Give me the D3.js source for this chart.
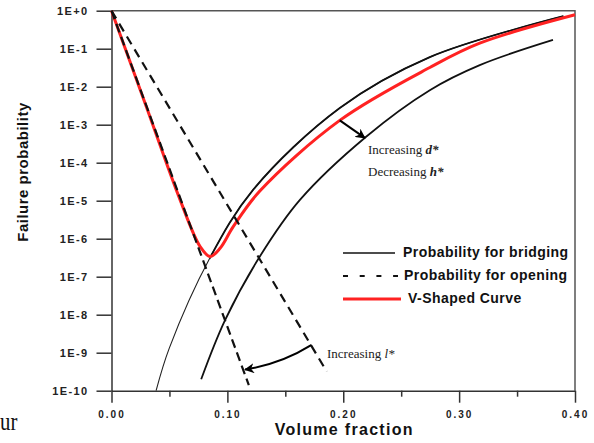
<!DOCTYPE html>
<html lang='en'>
<head>
  <title>Failure probability</title>
  <script src='https://cdn.jsdelivr.net/npm/d3@7/dist/d3.min.js'></script>
  <style>
    body { margin: 0; background: #fff; }
  </style>
</head>
<body>
  <script>
    // data: [volume fraction, probability]
    const bridgingUpper = [[0.0385, 1e-10], [0.0498, 1.3e-9], [0.0851, 3.2e-7], [0.122, 1.9e-5],
      [0.197, 2.75e-3], [0.2747, 6.0e-2], [0.39, 0.72]];
    const bridgingLower = [[0.0774, 2.0e-10], [0.098, 7.2e-9], [0.128, 3.4e-7], [0.1626, 1.05e-5],
      [0.22, 4.9e-4], [0.2747, 8.1e-3], [0.3178, 3.7e-2], [0.381, 0.17]];
    const openingSteep = [[0, 1], [0.1185, 1.4e-10]];
    const openingShallow = [[0, 1], [0.1857, 3.2e-10]];
    const vCurve = [[0, 1], [0.03, 3.0e-3], [0.0592, 1.05e-5], [0.0765, 6.2e-7], [0.0851, 3.4e-7],
      [0.0937, 5.6e-7], [0.1052, 2.1e-6], [0.128, 1.8e-5], [0.197, 1.3e-3], [0.2747, 3.2e-2],
      [0.3178, 0.14], [0.40, 0.78]];

    const yTicks = [1, 1e-1, 1e-2, 1e-3, 1e-4, 1e-5, 1e-6, 1e-7, 1e-8, 1e-9, 1e-10];
    const yTickLabels = ["1E+0", "1E-1", "1E-2", "1E-3", "1E-4", "1E-5", "1E-6", "1E-7", "1E-8", "1E-9", "1E-10"];
    const xTicks = [0, 0.1, 0.2, 0.3, 0.4];
    const xTickLabels = ["0.00", "0.10", "0.20", "0.30", "0.40"];
    const xMinorTicks = [0.05, 0.15, 0.25, 0.35];

    const legendItems = [
      { label: "Probability for bridging", color: "#111", width: 1.6, dash: null, len: 52, tx: 60 },
      { label: "Probability for opening", color: "#111", width: 2.2, dash: "5,11.7", len: 55, tx: 61 },
      { label: "V-Shaped Curve", color: "#f22", width: 3, dash: null, len: 58, tx: 65 }
    ];

    let W = 594, H = 443;
    let margins = { left: 111.5, top: 10.7, right: 19, bottom: 52.3 };

    let svg = d3.select("body").append("svg")
      .attr("width", W).attr("height", H)
      .style("font-family", "'Liberation Sans', Arial, sans-serif");

    let x = d3.scaleLinear().domain([0, 0.4]).range([margins.left, W - margins.right]);
    let y = d3.scaleLog().domain([1e-10, 1]).range([H - margins.bottom, margins.top]);

    let defs = svg.append("defs");
    // arrow head
    defs.append("marker")
      .attr("id", "head")
      .attr("viewBox", "0 0 10 10")
      .attr("refX", 9).attr("refY", 5)
      .attr("markerWidth", 10).attr("markerHeight", 10)
      .attr("markerUnits", "userSpaceOnUse")
      .attr("orient", "auto")
      .append("path").attr("d", "M0,0 L10,5 L0,10 L3,5 Z").attr("fill", "#000");
    // the bridging curve is drawn thicker right of the V minimum
    defs.append("clipPath").attr("id", "rightOfMin")
      .append("rect")
      .attr("x", x(0.085)).attr("y", 0)
      .attr("width", W).attr("height", H);

    // frame top and right
    svg.append("path")
      .attr("d", `M${x(0)},${y(1)} H${x(0.4)} V${y(1e-10)}`)
      .attr("fill", "none").attr("stroke", "#555").attr("stroke-width", 1.5);

    // y axis
    let yAxis = svg.append("g")
      .attr("transform", `translate(${x(0)},0)`)
      .call(d3.axisLeft(y).tickValues(yTicks).tickFormat((d, i) => yTickLabels[i])
        .tickSize(15).tickSizeOuter(0).tickPadding(8));
    // x axis
    let xAxis = svg.append("g")
      .attr("transform", `translate(0,${y(1e-10)})`)
      .call(d3.axisBottom(x).tickValues(xTicks).tickFormat((d, i) => xTickLabels[i])
        .tickSize(12).tickSizeOuter(0).tickPadding(8));
    svg.append("g")
      .attr("transform", `translate(0,${y(1e-10)})`)
      .call(d3.axisBottom(x).tickValues(xMinorTicks).tickFormat("").tickSize(6).tickSizeOuter(0))
      .select(".domain").remove();

    svg.selectAll(".tick line").attr("stroke", "#333").attr("stroke-width", 1.5);
    svg.selectAll(".domain").attr("stroke", "#333").attr("stroke-width", 1.5);
    svg.selectAll(".tick text")
      .attr("fill", "#222").style("font-weight", "bold")
      .style("font-family", "'Liberation Sans', Arial, sans-serif");
    yAxis.selectAll(".tick text").style("font-size", "11px").style("letter-spacing", "1.4px");
    xAxis.selectAll(".tick text").style("font-size", "10px").style("letter-spacing", "2px");

    // axis titles
    svg.append("text").text("Volume fraction")
      .attr("x", x(0.2) + 1).attr("y", 435)
      .attr("text-anchor", "middle")
      .style("font-weight", "bold").style("font-size", "16px").style("letter-spacing", "1.3px")
      .attr("fill", "#111");
    svg.append("text").text("Failure probability")
      .attr("transform", "translate(28,172) rotate(-90)")
      .attr("text-anchor", "middle")
      .style("font-weight", "bold").style("font-size", "15px").style("letter-spacing", "0.5px")
      .attr("fill", "#111");

    // lines
    let line = d3.line().x(d => x(d[0])).y(d => y(d[1])).curve(d3.curveCatmullRom.alpha(0.5));
    let straight = d3.line().x(d => x(d[0])).y(d => y(d[1]));

    let plot = svg.append("g");
    plot.append("path").datum(bridgingUpper)
      .attr("d", line).attr("fill", "none").attr("stroke", "#222").attr("stroke-width", 1.1);
    plot.append("path").datum(bridgingUpper)
      .attr("clip-path", "url(#rightOfMin)")
      .attr("d", line).attr("fill", "none").attr("stroke", "#111").attr("stroke-width", 1.8);
    plot.append("path").datum(bridgingLower)
      .attr("d", line).attr("fill", "none").attr("stroke", "#111").attr("stroke-width", 1.8);
    plot.append("path").datum(vCurve)
      .attr("d", line).attr("fill", "none").attr("stroke", "#f22").attr("stroke-width", 3);
    plot.append("path").datum(openingSteep)
      .attr("d", straight).attr("fill", "none").attr("stroke", "#111")
      .attr("stroke-width", 2.2).attr("stroke-dasharray", "9,5");
    plot.append("path").datum(openingShallow)
      .attr("d", straight).attr("fill", "none").attr("stroke", "#111")
      .attr("stroke-width", 2.2).attr("stroke-dasharray", "9,6");

    // annotation arrows
    svg.append("path")
      .attr("d", `M${x(0.197)},${y(1.3e-3)} L${x(0.2186)},${y(4.5e-4)}`)
      .attr("stroke", "#000").attr("stroke-width", 2).attr("fill", "none")
      .attr("marker-end", "url(#head)");
    svg.append("path")
      .attr("d", `M${x(0.1727)},${y(1.6e-9)} Q${x(0.146)},${y(5.0e-10)} ${x(0.1153)},${y(3.6e-10)}`)
      .attr("stroke", "#000").attr("stroke-width", 2).attr("fill", "none")
      .attr("marker-end", "url(#head)");

    let serif = "'Liberation Serif', 'Times New Roman', serif";
    let t1 = svg.append("text").attr("x", 368).attr("y", 154)
      .style("font-family", serif).style("font-size", "13px").attr("fill", "#222");
    t1.append("tspan").text("Increasing ");
    t1.append("tspan").text("d*").style("font-style", "italic").style("font-weight", "bold");
    let t2 = svg.append("text").attr("x", 368).attr("y", 176)
      .style("font-family", serif).style("font-size", "13px").attr("fill", "#222");
    t2.append("tspan").text("Decreasing ");
    t2.append("tspan").text("h*").style("font-style", "italic").style("font-weight", "bold");
    let t3 = svg.append("text").attr("x", 327).attr("y", 358)
      .style("font-family", serif).style("font-size", "13px").attr("fill", "#222");
    t3.append("tspan").text("Increasing ");
    t3.append("tspan").text("l*").style("font-style", "italic");

    // legend
    let legend = svg.append("g").attr("transform", "translate(343,253)");
    let rows = legend.selectAll("g").data(legendItems).join("g")
      .attr("transform", (d, i) => `translate(0,${i * 23})`);
    rows.append("line")
      .attr("x1", 0).attr("x2", d => d.len)
      .attr("stroke", d => d.color).attr("stroke-width", d => d.width)
      .attr("stroke-dasharray", d => d.dash);
    rows.append("text").text(d => d.label)
      .attr("x", d => d.tx).attr("y", 0)
      .attr("dominant-baseline", "middle")
      .style("font-weight", "bold").style("font-size", "14px").style("letter-spacing", "0.45px")
      .attr("fill", "#111");

    // caption remnant at the lower left
    svg.append("text").text("ur")
      .attr("transform", "translate(0,430) scale(0.8,1)")
      .style("font-family", serif).style("font-size", "26px").attr("fill", "#111");
  </script>
</body>
</html>
